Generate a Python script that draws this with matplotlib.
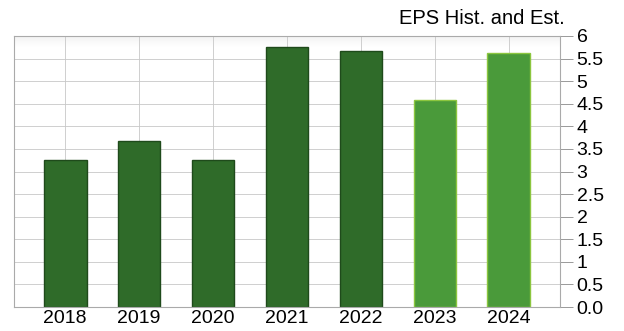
#!/usr/bin/env python3
"""EPS Hist. and Est. -- bar chart, right-side y axis."""
import matplotlib
matplotlib.use("Agg")
import matplotlib.pyplot as plt
import numpy as np
from matplotlib.ticker import FuncFormatter

YEARS = ["2018", "2019", "2020", "2021", "2022", "2023", "2024"]
EPS = [3.25, 3.67, 3.25, 5.76, 5.66, 4.58, 5.63]
IS_EST = [False, False, False, False, False, True, True]

HIST_COLOR = "#2f6b29"
HIST_EDGE = "#1f4a1b"
EST_COLOR = "#4a9a3a"
EST_EDGE = "#8cc63f"

plt.rcParams["font.family"] = ["Liberation Sans", "DejaVu Sans"]


def ylab(v, _pos):
    if abs(v) < 1e-9:
        return "0.0"
    if abs(v - round(v)) < 1e-9:
        return f"{int(round(v))}"
    return f"{v:g}"


def main():
    fig = plt.figure(figsize=(6.24, 3.31), dpi=100)
    ax = fig.add_axes([14 / 624, 24 / 331, 546 / 624, 271 / 331])

    x = np.arange(len(YEARS))
    ax.set_xlim(-0.69, 6.69)
    ax.set_ylim(0, 6)

    # faint grey band along the top of the plot
    grad = np.linspace(0, 1, 50).reshape(-1, 1)
    ax.imshow(grad, cmap="Greys", vmin=0, vmax=9, aspect="auto",
              extent=(-0.69, 6.69, 5.75, 6.0), origin="lower", zorder=0)

    ax.set_xticks(x)
    ax.set_xticklabels(YEARS, fontsize=14)
    ax.set_yticks(np.arange(0, 6.01, 0.5))
    ax.yaxis.set_major_formatter(FuncFormatter(ylab))
    ax.yaxis.tick_right()
    ax.tick_params(axis="y", labelsize=14, length=9, width=0.7, color="#999999", pad=3)
    ax.tick_params(axis="x", length=0, pad=2)

    ax.grid(True, color="#c8c8c8", lw=0.6, zorder=0)
    ax.set_axisbelow(True)
    for s in ax.spines.values():
        s.set_color("#aaaaaa")
        s.set_linewidth(0.8)

    colors = [EST_COLOR if e else HIST_COLOR for e in IS_EST]
    edges = [EST_EDGE if e else HIST_EDGE for e in IS_EST]
    ax.bar(x, EPS, width=0.58, color=colors, edgecolor=edges, linewidth=1.0, zorder=2)

    fig.text(565 / 624, 1 - 18 / 331, "EPS Hist. and Est.", ha="right", va="center", fontsize=14.5)

    fig.savefig("out.png", dpi=100)


if __name__ == "__main__":
    main()
